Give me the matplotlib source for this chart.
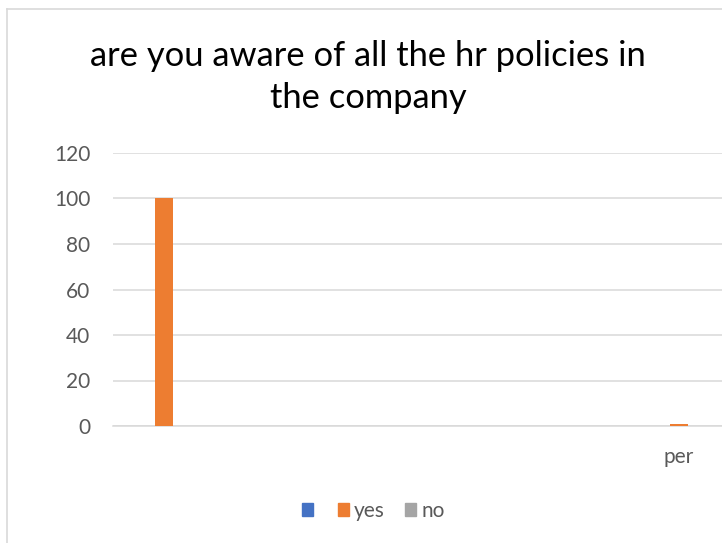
import matplotlib.pyplot as plt
from matplotlib.lines import Line2D
from matplotlib.patches import Patch
import numpy as np

plt.rcParams['font.family'] = ['Lato', 'DejaVu Sans']

categories = ['', '', '', '', '', 'per']
blank = [0, 0, 0, 0, 0, 0]
yes = [100, 0, 0, 0, 0, 1]
no = [0, 0, 0, 0, 0, 0]
series = [('', blank, '#4472c4'), ('yes', yes, '#ed7d31'), ('no', no, '#a5a5a5')]

fig = plt.figure(figsize=(7.22, 5.43), dpi=100)
ax = fig.add_axes([112.5 / 722, 117 / 543, 618 / 722, 273 / 543])

x = np.arange(len(categories))
w = 0.175
for i, (name, vals, col) in enumerate(series):
    ax.bar(x + (i - 1) * w, vals, width=w, color=col, label=name, zorder=3)

ax.set_xlim(-0.5, len(categories) - 0.5)
ax.set_ylim(0, 120)
ax.set_yticks(range(0, 121, 20))
ax.set_xticks(x)
ax.set_xticklabels(categories)
ax.grid(axis='y', color='#d9d9d9', linewidth=1.1, zorder=0)
for s in ['top', 'right', 'left']:
    ax.spines[s].set_visible(False)
ax.spines['bottom'].set_color('#d9d9d9')
ax.spines['bottom'].set_linewidth(1.1)
ax.tick_params(length=0, colors='#595959', labelsize=15)
ax.tick_params(axis='y', pad=16)
ax.tick_params(axis='x', pad=15)

fig.text(368 / 722, 1 - 77 / 543, 'are you aware of all the hr policies in\nthe company',
         ha='center', va='center', fontsize=24.8, color='black', linespacing=1.38)

handles = [Patch(color=c) for _, _, c in series]
fig.legend(handles, [n for n, _, _ in series], loc='center', ncol=3,
           bbox_to_anchor=(373 / 722, 1 - 511 / 543), frameon=False,
           handlelength=0.53, handleheight=0.53, handletextpad=0.22,
           columnspacing=1.0, fontsize=15, labelcolor='#595959')

# chart border
fig.add_artist(Line2D([7 / 722, 7 / 722], [0, 1 - 8.5 / 543], color='#d9d9d9', linewidth=1.2))
fig.add_artist(Line2D([7 / 722, 1], [1 - 8.5 / 543, 1 - 8.5 / 543], color='#d9d9d9', linewidth=1.2))

fig.savefig('out.png', dpi=100)
